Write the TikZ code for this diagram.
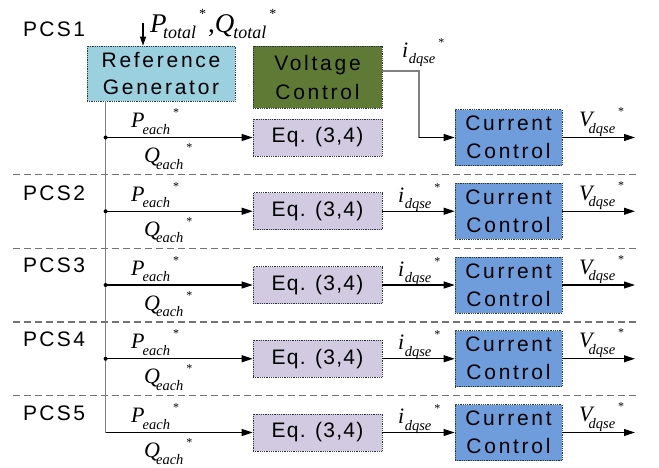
\documentclass[tikz,border=0pt]{standalone}
\usepackage{fontspec}
\setmainfont{Liberation Sans}
\newfontfamily\bxfont[LetterSpace=13]{Liberation Sans}
\newfontfamily\pcsfont[LetterSpace=11]{Liberation Sans}
\newfontfamily\eqfont[LetterSpace=6]{Liberation Sans}
\newfontfamily\tmsfont{Liberation Serif}
\usetikzlibrary{arrows.meta}
\definecolor{rgblue}{HTML}{9BD0DF}
\definecolor{vcgreen}{HTML}{5F7A34}
\definecolor{eqlav}{HTML}{D2CAE1}
\definecolor{ccblue}{HTML}{6F9DDB}
\definecolor{bordc}{HTML}{2A3340}
% signal label: #1 letter, #2 kern, #3 subscript
\newcommand{\sg}[3]{{\tmsfont\itshape\fontsize{22}{22}\selectfont #1\kern#2\raisebox{-6.5pt}{\fontsize{14.5}{14.5}\selectfont #3}\kern3pt\raisebox{11pt}{\fontsize{12}{12}\selectfont\upshape *}}}
\newcommand{\sgbig}[3]{{\tmsfont\itshape\fontsize{27}{27}\selectfont #1\kern#2\raisebox{-6pt}{\fontsize{18}{18}\selectfont #3}\kern3pt\raisebox{14pt}{\fontsize{14}{14}\selectfont\upshape *}}}
\begin{document}
\begin{tikzpicture}[x=1pt,y=-1pt,
  blk/.style={draw=bordc,densely dotted,line width=0.8pt,inner sep=0pt,align=center,text=black,
    font=\bxfont\fontsize{21}{27}\selectfont},
  rgbox/.style={blk,fill=rgblue,minimum width=148pt,minimum height=55pt},
  vcbox/.style={blk,fill=vcgreen,minimum width=129pt,minimum height=62pt,font=\bxfont\fontsize{21}{29}\selectfont},
  eqbox/.style={blk,fill=eqlav,minimum width=129pt,minimum height=37pt,font=\eqfont\fontsize{21}{24}\selectfont},
  ccbox/.style={blk,fill=ccblue,minimum width=107pt,minimum height=56pt,font=\bxfont\fontsize{21}{28}\selectfont},
  sig/.style={line width=1.1pt,-{Triangle[length=11pt,width=7pt]}},
  bus/.style={line width=1.5pt,draw=black!50},
  sep/.style={line width=1.2pt,draw=black!55,dash pattern=on 7pt off 4pt},
  lbl/.style={anchor=base west,inner sep=0pt},
  pcs/.style={anchor=base west,inner sep=0pt,font=\pcsfont\fontsize{21}{24}\selectfont},
  dotn/.style={circle,fill=black,inner sep=0pt,minimum size=4pt}]
\useasboundingbox (0,0) rectangle (659,467);

% separators
\foreach \yy [count=\i] in {174.5,248.5,322,395.5}
  \draw[sep] (13,\yy) -- (638,\yy);

% PCS labels
\node[pcs] (pcs1) at (23,36.5) {PCS1};
\node[pcs] (pcs2) at (23,200) {PCS2};
\node[pcs] (pcs3) at (23,272.5) {PCS3};
\node[pcs] (pcs4) at (23,346) {PCS4};
\node[pcs] (pcs5) at (23,420) {PCS5};

% top blocks
\node[rgbox] (RG) at (161,73.5) {Reference\\Generator};
\node[vcbox] (VC) at (317.5,77) {{\color{black}Voltage}\\{\color{black}Control}};

% reference input
\coordinate (tin) at (143,23);
\draw[line width=1.1pt,-{Triangle[length=9pt,width=6pt]}] (tin) -- (tin |- RG.north);
\node[lbl] (ptot) at (150,32) {\sgbig{P}{-3.5pt}{total}\kern2pt{\tmsfont\fontsize{27}{27}\selectfont ,}\kern0pt\sgbig{Q}{-1pt}{total}};

% rows
\coordinate (bt) at ([xshift=19pt]RG.south west);
\foreach \k/\yc in {1/137.5,2/211.25,3/285,4/358.75,5/432.5}{
  \node[eqbox] (E\k) at (317.5,\yc) {Eq. (3,4)};
  \node[ccbox] (C\k) at (508.5,\yc) {Current\\Control};
  \coordinate (d\k) at (bt |- E\k.west);
  \coordinate (o\k) at (635,\yc);
  \draw[sig] (d\k) -- (E\k.west);
  \draw[sig] (C\k.east) -- (o\k);
  \node[lbl] (p\k) at (131,\yc-10) {\sg{P}{-2pt}{each}};
  \node[lbl] (q\k) at (144,\yc+25) {\sg{Q}{-4pt}{each}};
  \node[lbl] (v\k) at (579,\yc-11) {\sg{V}{-4pt}{dqse}};
}
\foreach \k in {2,3,4,5}{
  \draw[sig] (E\k.east) -- (C\k.west);
  \node[lbl] (i\k) at (398,{137.5+73.75*(\k-1)-9}) {\sg{i}{0.5pt}{dqse}};
}
\draw[bus] (bt) -- (d5);
\foreach \k in {1,2,3,4} \node[dotn] (dot\k) at (d\k) {};

% voltage control to current control (row 1)
\coordinate (vcout) at ([yshift=6pt]VC.east);
\coordinate (vcc) at (419,71);
\coordinate (vcd) at (vcc |- C1.west);
\draw[bus,line width=1.3pt] (vcout) -- (vcc) -- (vcd);
\draw[sig] (vcd) -- (C1.west);
\node[lbl] (i1) at (402,57) {\sg{i}{0.5pt}{dqse}};
\end{tikzpicture}
\end{document}
